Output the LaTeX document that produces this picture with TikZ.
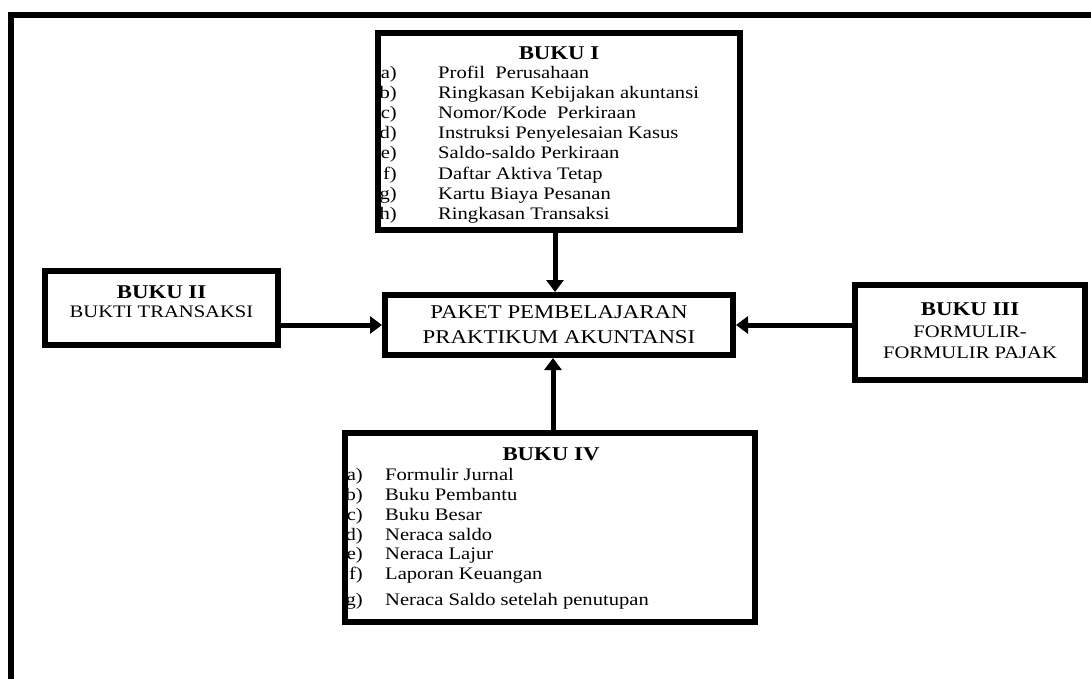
\documentclass[tikz,border=0pt]{standalone}
\usepackage{fontspec}
\setmainfont{Liberation Serif}[FakeStretch=1.17]
\usetikzlibrary{arrows.meta}
\begin{document}
\begin{tikzpicture}[x=1pt,y=-1pt,
  box/.style n args={2}{draw,line width=6pt,inner sep=0pt,minimum width=#1pt,minimum height=#2pt},
  itm/.style={inner sep=0pt,font=\fontsize{17.6}{20}\selectfont},
  ttl/.style={inner sep=0pt,anchor=base,font=\bfseries\fontsize{19.5}{22}\selectfont},
  sub/.style={inner sep=0pt,anchor=base,font=\fontsize{17.6}{20}\selectfont},
  big/.style={inner sep=0pt,anchor=base,font=\fontsize{19.5}{22}\selectfont},
  arr/.style={line width=5pt,-{Triangle[width=17pt,length=12pt]}}]
\useasboundingbox (0,0) rectangle (1091,679);
\fill[white] (0,0) rectangle (1091,679);
% outer frame
\draw[line width=6pt,line join=miter] (10.5,685) -- (10.5,15.5) -- (1095,15.5);

% BUKU I texts
\node[ttl] (t1) at (559,60) {BUKU I};
\node[itm,anchor=base east] (l1a) at (397,79) {a)};
\node[itm,anchor=base west] (i1a) at (438,79) {Profil\ \ Perusahaan};
\node[itm,anchor=base east] (l1b) at (397,99) {b)};
\node[itm,anchor=base west] (i1b) at (438,99) {Ringkasan Kebijakan akuntansi};
\node[itm,anchor=base east] (l1c) at (397,119) {c)};
\node[itm,anchor=base west] (i1c) at (438,119) {Nomor/Kode\ \ Perkiraan};
\node[itm,anchor=base east] (l1d) at (397,139) {d)};
\node[itm,anchor=base west] (i1d) at (438,139) {Instruksi Penyelesaian Kasus};
\node[itm,anchor=base east] (l1e) at (397,159) {e)};
\node[itm,anchor=base west] (i1e) at (438,159) {Saldo-saldo Perkiraan};
\node[itm,anchor=base east] (l1f) at (397,179) {f)};
\node[itm,anchor=base west] (i1f) at (438,179) {Daftar Aktiva Tetap};
\node[itm,anchor=base east] (l1g) at (397,199) {g)};
\node[itm,anchor=base west] (i1g) at (438,199) {Kartu Biaya Pesanan};
\node[itm,anchor=base east] (l1h) at (397,219) {h)};
\node[itm,anchor=base west] (i1h) at (438,219) {Ringkasan Transaksi};

% BUKU II texts
\node[ttl] (t2) at (161.5,298) {BUKU II};
\node[sub] (s2) at (161.5,317) {BUKTI TRANSAKSI};

% PAKET texts
\node[big] (p1) at (559,318) {PAKET PEMBELAJARAN};
\node[big] (p2) at (559,343) {PRAKTIKUM AKUNTANSI};

% BUKU III texts
\node[ttl] (t3) at (970,315) {BUKU III};
\node[sub] (s3a) at (970,337) {FORMULIR-};
\node[sub] (s3b) at (970,358) {FORMULIR PAJAK};

% BUKU IV texts
\node[ttl] (t4) at (551,460) {BUKU IV};
\node[itm,anchor=base east] (l4a) at (363,480) {a)};
\node[itm,anchor=base west] (i4a) at (385,480) {Formulir Jurnal};
\node[itm,anchor=base east] (l4b) at (363,500) {b)};
\node[itm,anchor=base west] (i4b) at (385,500) {Buku Pembantu};
\node[itm,anchor=base east] (l4c) at (363,520) {c)};
\node[itm,anchor=base west] (i4c) at (385,520) {Buku Besar};
\node[itm,anchor=base east] (l4d) at (363,540) {d)};
\node[itm,anchor=base west] (i4d) at (385,540) {Neraca saldo};
\node[itm,anchor=base east] (l4e) at (363,559) {e)};
\node[itm,anchor=base west] (i4e) at (385,559) {Neraca Lajur};
\node[itm,anchor=base east] (l4f) at (363,579) {f)};
\node[itm,anchor=base west] (i4f) at (385,579) {Laporan Keuangan};
\node[itm,anchor=base east] (l4g) at (363,605) {g)};
\node[itm,anchor=base west] (i4g) at (385,605) {Neraca Saldo setelah penutupan};

% boxes (drawn over the texts)
\node[box={362}{197}] (bk1) at (559,131.5) {};
\node[box={233}{74}] (bk2) at (161.5,308) {};
\node[box={348}{60}] (paket) at (559,325) {};
\node[box={230}{95}] (bk3) at (970,332.5) {};
\node[box={410}{189}] (bk4) at (550,527.5) {};

% connectors
\draw[arr] ([xshift=-4pt]bk1.south) -- ([xshift=-4pt]bk1.south |- paket.north);
\draw[arr] (bk2.east |- paket.west) -- (paket.west);
\draw[arr] (bk3.west |- paket.east) -- (paket.east);
\draw[arr] ([xshift=-6pt]paket.south |- bk4.north) -- ([xshift=-6pt]paket.south);
\end{tikzpicture}
\end{document}
